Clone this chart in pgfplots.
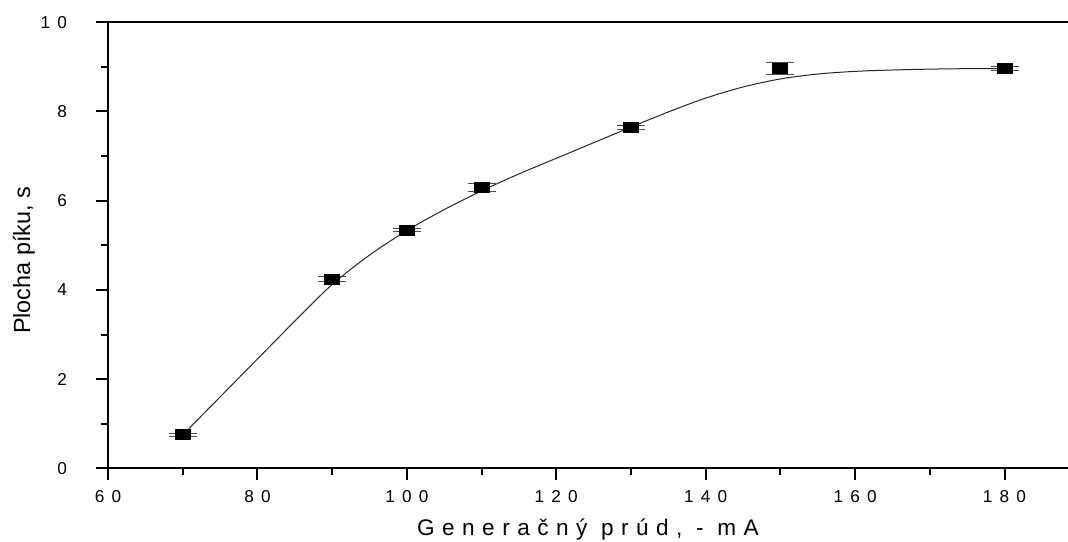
\documentclass[border=0pt]{standalone}
\usepackage{fontspec}
\setmainfont{Liberation Sans}
\newfontfamily\spaced[LetterSpace=33]{Liberation Sans}
\usepackage{pgfplots}
\usepackage{pgfplotstable}
\pgfplotsset{compat=1.18}
\newcommand\g{\kern3.6pt}

% measured points with error
\pgfplotstableread{
x y e
70 0.75 0.04
90 4.24 0.05
100 5.34 0.04
110 6.29 0.09
130 7.64 0.04
150 8.97 0.13
180 8.96 0.04
}\meas

% fitted curve
\pgfplotstableread{
x y
70 0.75
75 1.60
80 2.45
85 3.30
90 4.12
95 4.78
100 5.33
105 5.80
110 6.22
115 6.60
120 6.95
125 7.30
130 7.65
135 7.99
140 8.30
145 8.55
150 8.73
155 8.84
160 8.90
165 8.93
170 8.95
175 8.96
180 8.96
}\fitcurve

\begin{document}
\begin{tikzpicture}
\useasboundingbox (0,0) rectangle (534pt,270.5pt);
\begin{axis}[at={(54pt,36.35pt)}, anchor=south west,
    scale only axis, width=480pt, height=223pt,
    xmin=60, xmax=188.5, ymin=0, ymax=10,
    axis x line=box, axis y line=left,
    axis line style={-, line width=0.9pt},
    y axis line style={line width=1.3pt},
    tick align=outside, xtick pos=left, ytick pos=left,
    major tick length=6pt, minor tick length=3.5pt,
    tick style={black, line width=1pt},
    xtick={60,80,...,180}, minor x tick num=1,
    ytick={0,2,...,10}, minor y tick num=1,
    xticklabels={6\g0,8\g0,1\g0\g0,1\g2\g0,1\g4\g0,1\g6\g0,1\g8\g0},
    yticklabels={0,2,4,6,8,1\g0},
    ticklabel style={font=\fontsize{8.6}{10}\selectfont},
    xticklabel style={yshift=-1.5pt},
    yticklabel style={xshift=-11pt},
    xlabel={\spaced Generačný prúd, - mA},
    ylabel={Plocha píku, s},
    xlabel style={at={(axis description cs:0.5,-0.1496)}, anchor=base, font=\fontsize{11.3}{13}\selectfont},
    ylabel style={at={(axis description cs:-0.081,0.466)}, anchor=base, font=\fontsize{11.7}{14}\selectfont},
    clip=false]
\addplot[black!85, line width=0.5pt, smooth] table[x=x,y=y]{\fitcurve};
\addplot[black, only marks, mark=square*, mark size=2.5pt,
    mark options={xscale=1.5, fill=black},
    error bars/.cd, y dir=both, y explicit,
    error mark options={rotate=90, mark size=7pt, line width=0.5pt, black!70},
    error bar style={line width=0.5pt, black}]
    table[x=x,y=y,y error=e]{\meas};
\end{axis}
\end{tikzpicture}
\end{document}
